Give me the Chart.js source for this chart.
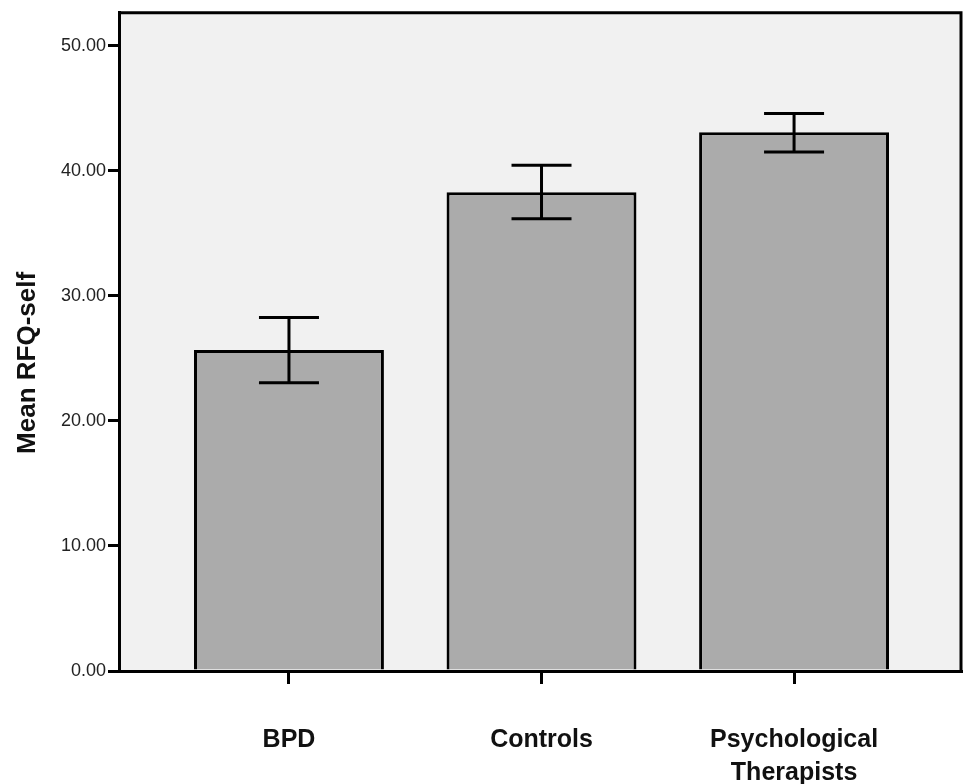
<!DOCTYPE html>
<html>
<head>
<meta charset="utf-8">
<script src="https://cdn.jsdelivr.net/npm/chart.js@4"></script>
<style>
    body { margin: 0; background: #fff; }
    canvas { display: block; }
</style>
</head>
<body>
<canvas id="rfqChart" width="963" height="784"></canvas>
<script>
// =======================
// DATA
// =======================
const categories = ['BPD', 'Controls', 'Psychological Therapists'];
const categoryLines = [['BPD'], ['Controls'], ['Psychological', 'Therapists']];
const meanValues = [25.67, 38.29, 43.07];
const upperValues = [28.27, 40.44, 44.58];
const lowerValues = [23.04, 36.16, 41.50];
const yTicks = [0, 10, 20, 30, 40, 50];
const yTitle = 'Mean RFQ-self';

const FONT = 'Arial, "Liberation Sans", sans-serif';

// =======================
// PLOT BACKGROUND + FRAME + Y TITLE
// =======================
const plotFrame = {
    id: 'plotFrame',
    beforeDraw(chart) {
        const { ctx, chartArea: a } = chart;
        ctx.save();
        ctx.fillStyle = '#f1f1f1';
        ctx.fillRect(a.left, a.top, a.right - a.left, a.bottom - a.top);
        ctx.restore();
    },
    afterDraw(chart) {
        const { ctx, chartArea: a } = chart;
        ctx.save();
        ctx.strokeStyle = '#000';
        ctx.lineWidth = 3;
        ctx.beginPath();
        ctx.moveTo(a.left, a.top);
        ctx.lineTo(a.right, a.top);
        ctx.lineTo(a.right, a.bottom);
        ctx.stroke();

        // y title sits a little below the plot centre, as in the original
        ctx.translate(28, (a.top + a.bottom) / 2 + 21);
        ctx.rotate(-Math.PI / 2);
        ctx.fillStyle = '#111';
        ctx.font = 'bold 26px ' + FONT;
        ctx.textAlign = 'center';
        ctx.textBaseline = 'middle';
        ctx.fillText(yTitle, 0, 0);
        ctx.restore();
    }
};

// =======================
// ERROR BARS
// =======================
const errorBars = {
    id: 'errorBars',
    afterDatasetsDraw(chart) {
        const { ctx, scales: { x, y } } = chart;
        const half = 30;
        ctx.save();
        ctx.strokeStyle = '#000';
        ctx.lineWidth = 3;
        categories.forEach((_, i) => {
            const cx = x.getPixelForValue(i + 1);
            const yt = y.getPixelForValue(upperValues[i]);
            const yb = y.getPixelForValue(lowerValues[i]);
            ctx.beginPath();
            ctx.moveTo(cx, yt);
            ctx.lineTo(cx, yb);
            ctx.moveTo(cx - half, yt);
            ctx.lineTo(cx + half, yt);
            ctx.moveTo(cx - half, yb);
            ctx.lineTo(cx + half, yb);
            ctx.stroke();
        });
        ctx.restore();
    }
};

// =======================
// CHART
// =======================
new Chart(document.getElementById('rfqChart'), {
    type: 'bar',
    data: {
        datasets: [{
            label: yTitle,
            data: meanValues.map((v, i) => ({ x: i + 1, y: v })),
            backgroundColor: '#ababab',
            borderColor: '#000',
            borderWidth: 3,
            categoryPercentage: 1,
            barPercentage: 0.752
        }]
    },
    options: {
        responsive: false,
        animation: false,
        layout: { padding: { top: 11, right: 2 } },
        plugins: {
            legend: { display: false },
            tooltip: { enabled: false }
        },
        scales: {
            x: {
                type: 'linear',
                offset: false,
                min: 0.327,
                max: 3.661,
                afterFit: s => { s.height = 113; },
                afterBuildTicks: s => { s.ticks = categories.map((_, i) => ({ value: i + 1 })); },
                border: { color: '#000', width: 3 },
                grid: {
                    offset: false,
                    drawOnChartArea: false,
                    drawTicks: true,
                    tickLength: 13,
                    tickWidth: 3,
                    tickColor: '#000',
                    lineWidth: 3,
                    color: '#000'
                },
                ticks: {
                    autoSkip: false,
                    maxRotation: 0,
                    padding: 40,
                    color: '#111',
                    font: { family: FONT, size: 25, weight: 'bold', lineHeight: 1.32 },
                    callback: (v, i) => categoryLines[i]
                }
            },
            y: {
                min: 0,
                max: 52.63,
                afterFit: s => { s.width = 119; },
                afterBuildTicks: s => { s.ticks = yTicks.map(v => ({ value: v })); },
                border: { color: '#000', width: 3 },
                grid: {
                    drawOnChartArea: false,
                    drawTicks: true,
                    tickLength: 11,
                    tickWidth: 3,
                    tickColor: '#000',
                    lineWidth: 3,
                    color: '#000'
                },
                ticks: {
                    padding: 2,
                    color: '#222',
                    font: { family: FONT, size: 18 },
                    callback: v => Number(v).toFixed(2)
                }
            }
        }
    },
    plugins: [plotFrame, errorBars]
});
</script>
</body>
</html>
